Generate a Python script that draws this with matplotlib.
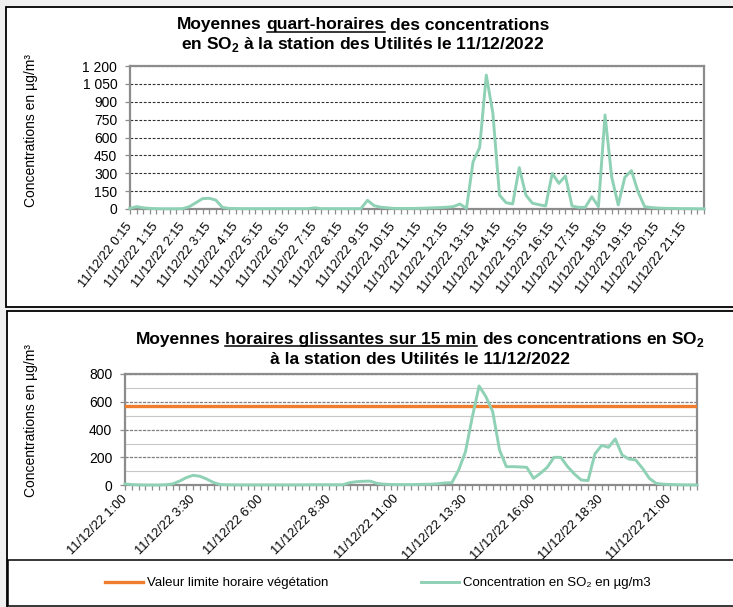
import matplotlib
matplotlib.use("Agg")
import matplotlib.pyplot as plt
from matplotlib import font_manager
from matplotlib.patches import Rectangle
from matplotlib.lines import Line2D
import numpy as np

# ---------------- DATA ----------------
qh_tick_labels = ["11/12/22 0:15", "11/12/22 1:15", "11/12/22 2:15", "11/12/22 3:15",
                  "11/12/22 4:15", "11/12/22 5:15", "11/12/22 6:15", "11/12/22 7:15",
                  "11/12/22 8:15", "11/12/22 9:15", "11/12/22 10:15", "11/12/22 11:15",
                  "11/12/22 12:15", "11/12/22 13:15", "11/12/22 14:15", "11/12/22 15:15",
                  "11/12/22 16:15", "11/12/22 17:15", "11/12/22 18:15", "11/12/22 19:15",
                  "11/12/22 20:15", "11/12/22 21:15"]
# quarter-hour means, 0:15 -> 22:00 (88 values)
qh_values = [5, 20, 10, 5, 3, 2, 2, 2, 3, 20,
             53, 87, 90, 75, 14, 5, 4, 3, 3, 3,
             3, 3, 3, 3, 3, 3, 3, 3, 10, 3,
             3, 3, 3, 3, 3, 3, 73, 28, 15, 10,
             5, 5, 5, 5, 6, 8, 10, 12, 15, 20,
             42, 5, 397, 517, 1124, 803, 117, 53, 42, 347,
             117, 48, 36, 25, 299, 215, 277, 25, 14, 14,
             103, 20, 789, 271, 34, 266, 322, 145, 20, 12,
             8, 6, 5, 4, 3, 3, 2, 2]

gl_tick_labels = ["11/12/22 1:00", "11/12/22 3:30", "11/12/22 6:00", "11/12/22 8:30",
                  "11/12/22 11:00", "11/12/22 13:30", "11/12/22 16:00", "11/12/22 18:30",
                  "11/12/22 21:00"]
# sliding hourly means, 1:00 -> 22:00 (85 values)
gl_values = [10, 5, 3, 2, 2, 2, 4, 10, 30, 55,
             72, 65, 45, 20, 5, 4, 3, 3, 3, 3,
             3, 3, 3, 3, 3, 3, 3, 4, 4, 4,
             4, 4, 4, 19, 26, 29, 30, 14, 8, 6,
             5, 5, 5, 6, 7, 8, 11, 17, 19, 110,
             242, 490, 714, 637, 529, 254, 134, 134, 132, 129,
             50, 86, 129, 201, 201, 134, 81, 38, 34, 225,
             287, 273, 333, 218, 189, 182, 122, 50, 14, 8,
             6, 4, 3, 3, 2]
limit_value = 570

top_yticks = [0, 150, 300, 450, 600, 750, 900, 1050, 1200]
top_ytick_labels = ["0", "150", "300", "450", "600", "750", "900", "1 050", "1 200"]
bot_yticks = [0, 200, 400, 600, 800]

legend_labels = ["Valeur limite horaire végétation", "Concentration en SO₂ en µg/m3"]

# ---------------- STYLE ----------------
W, H = 733, 607
avail = {f.name for f in font_manager.fontManager.ttflist}
REG = "Liberation Sans" if "Liberation Sans" in avail else "DejaVu Sans"
FAM = [REG, "DejaVu Sans"]
plt.rcParams["font.family"] = FAM
plt.rcParams["mathtext.fontset"] = "custom"
plt.rcParams["mathtext.rm"] = REG
plt.rcParams["mathtext.bf"] = REG + ":bold"

GREEN = "#8fd1b5"
ORANGE = "#ee7d2e"
AXGRAY = "#8c8c8c"

fig = plt.figure(figsize=(W / 100, H / 100), dpi=100)
fig.patch.set_facecolor("#f0f0f0")


def fx(px):
    return px / W


def fy(py):
    return 1 - py / H


# panels
for (x0, y0, x1, y1) in [(6, 7, 745, 307), (7, 311, 745, 615)]:
    fig.add_artist(Rectangle((fx(x0), fy(y1)), fx(x1 - x0), (y1 - y0) / H,
                             transform=fig.transFigure, facecolor="white",
                             edgecolor="black", lw=1.3, zorder=0))

renderer = fig.canvas.get_renderer()


def rich_line(cx, y, parts, size, weight="bold"):
    """parts: list of (text, underline)."""
    texts = []
    widths = []
    for s, u in parts:
        t = fig.text(0, fy(y), s, fontsize=size, family=FAM, weight=weight,
                     ha="left", va="baseline")
        texts.append(t)
        widths.append(t.get_window_extent(renderer).width)
    probe_a = fig.text(0, 0, "ab", fontsize=size, family=FAM, weight=weight)
    probe_b = fig.text(0, 0, "a b", fontsize=size, family=FAM, weight=weight)
    sp = probe_b.get_window_extent(renderer).width - probe_a.get_window_extent(renderer).width
    probe_a.remove(); probe_b.remove()
    total = sum(widths) + sp * (len(parts) - 1)
    x = cx - total / 2
    for t, w, (s, u) in zip(texts, widths, parts):
        t.set_x(fx(x))
        if u:
            fig.add_artist(Line2D([fx(x), fx(x + w)], [fy(y + 2.4), fy(y + 2.4)],
                                  transform=fig.transFigure, color="black", lw=1.1))
        x += w + sp


TS = 12.5
rich_line(363, 29.5, [("Moyennes", False), ("quart-horaires", True),
                      ("des concentrations", False)], TS)
rich_line(363, 49.5, [(r"en SO$_\mathbf{2}$ à la station des Utilités le 11/12/2022", False)], TS)

rich_line(420, 344, [("Moyennes", False), ("horaires glissantes sur 15 min", True),
                     (r"des concentrations en SO$_\mathbf{2}$", False)], TS)
rich_line(420, 364, [("à la station des Utilités le 11/12/2022", False)], TS)

# y labels
fig.text(fx(31), fy(131), "Concentrations en µg/m³", rotation=90, ha="center",
         va="center", fontsize=10)
fig.text(fx(31), fy(421), "Concentrations en µg/m³", rotation=90, ha="center",
         va="center", fontsize=10)


def style_axes(ax, n, major_step, labels, rot, pad):
    ax.set_xlim(0, n - 1)
    for side in ["left", "top", "right", "bottom"]:
        ax.spines[side].set_color(AXGRAY)
        ax.spines[side].set_linewidth(1.6)
    ax.set_xticks(np.arange(0, n, major_step))
    ax.set_xticks(np.arange(n), minor=True)
    ax.set_xticklabels(labels, rotation=rot, ha="right", va="center",
                       rotation_mode="anchor", fontsize=9.3)
    ax.tick_params(axis="x", which="both", length=3.5, color=AXGRAY, width=0.9, pad=pad)
    ax.tick_params(axis="y", length=3.6, color=AXGRAY, width=0.9, labelsize=10, pad=5.5)
    ax.set_axisbelow(True)


# ---------- top chart ----------
n1 = len(qh_values)
ax1 = fig.add_axes([fx(130), fy(209), fx(704 - 130), (209 - 66) / H])
ax1.plot(np.arange(n1), qh_values, color=GREEN, lw=2.1, solid_joinstyle="round",
         clip_on=False, zorder=3)
ax1.set_ylim(0, 1200)
ax1.set_yticks(top_yticks)
ax1.set_yticklabels(top_ytick_labels)
ax1.grid(axis="y", color="#303030", ls=(0, (2.5, 1.5)), lw=0.8)
style_axes(ax1, n1, 4, qh_tick_labels, 52, 7.5)

# ---------- bottom chart ----------
n2 = len(gl_values)
ax2 = fig.add_axes([fx(125), fy(485.3), fx(697 - 125), (485.3 - 374) / H])
x2 = np.arange(n2)
l_lim, = ax2.plot(x2, [limit_value] * n2, color=ORANGE, lw=2.4, zorder=3)
l_val, = ax2.plot(x2, gl_values, color=GREEN, lw=2.1, solid_joinstyle="round",
                  clip_on=False, zorder=3)
ax2.set_ylim(0, 800)
ax2.set_yticks(bot_yticks)
ax2.set_yticks(np.arange(0, 801, 100), minor=True)
ax2.grid(axis="y", which="major", color="#7f7f7f", ls=(0, (2.5, 1.0)), lw=0.9)
ax2.grid(axis="y", which="minor", color="#c8c8c8", lw=0.8)
ax2.tick_params(axis="y", which="minor", length=0)
style_axes(ax2, n2, 10, gl_tick_labels, 45, 5.0)

# legend box
fig.add_artist(Rectangle((fx(8), fy(606)), fx(740), (606 - 560) / H,
                         transform=fig.transFigure, facecolor="white",
                         edgecolor="black", lw=1.1, zorder=5))
leg = fig.legend([l_lim, l_val], legend_labels, ncol=2, loc="center",
                 bbox_to_anchor=(fx(378), fy(583)), frameon=False,
                 prop={"family": FAM, "size": 9.5}, handlelength=2.9,
                 handletextpad=0.3, columnspacing=7.0)
leg.set_zorder(6)

fig.savefig("out.png", dpi=100, facecolor=fig.get_facecolor())
